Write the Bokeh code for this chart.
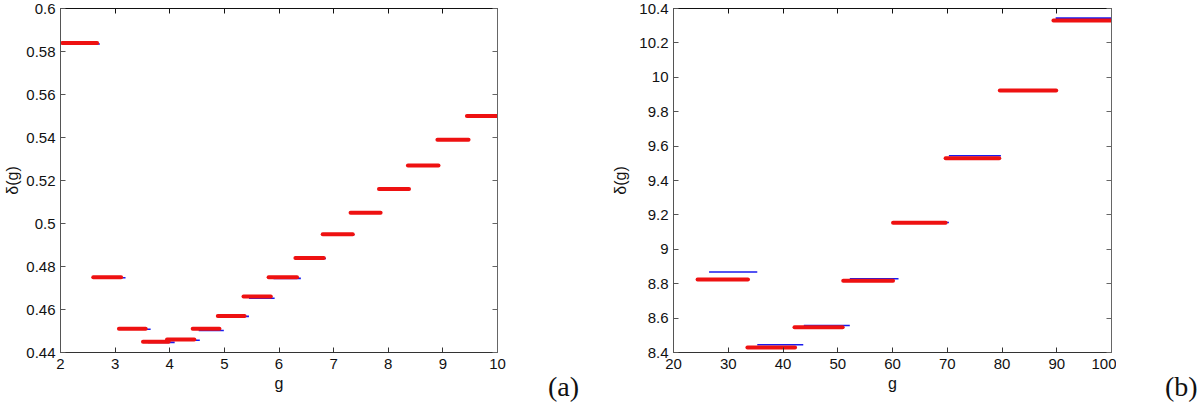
from bokeh.plotting import figure
from bokeh.layouts import row
from bokeh.models import LinearAxis, FixedTicker, Range1d, Div
from bokeh.embed import file_html
from bokeh.resources import INLINE

# ---------------- data: panel (a) ----------------
red_a_start = [2.03, 2.60, 3.07, 3.51, 3.95, 4.42, 4.88, 5.35, 5.81, 6.30, 6.80, 7.31, 7.83, 8.36, 8.90, 9.44]
red_a_end = [2.67, 3.11, 3.56, 3.98, 4.45, 4.91, 5.37, 5.85, 6.33, 6.82, 7.35, 7.86, 8.38, 8.92, 9.47, 10.0]
red_a_y = [0.584, 0.475, 0.451, 0.445, 0.446, 0.451, 0.457, 0.466, 0.475, 0.484, 0.495, 0.505, 0.516, 0.527, 0.539, 0.550]
blue_a_start = [2.10, 2.68, 3.15, 3.60, 4.05, 4.53, 4.95, 5.45, 5.90, 6.38, 6.86, 7.38, 7.90, 8.42, 8.96, 9.50]
blue_a_end = [2.72, 3.19, 3.65, 4.09, 4.55, 4.99, 5.45, 5.92, 6.40, 6.86, 7.38, 7.88, 8.40, 8.94, 9.49, 10.0]
blue_a_y = [0.5835, 0.4748, 0.4508, 0.4447, 0.4457, 0.4502, 0.4568, 0.4652, 0.4745, 0.4837, 0.4948, 0.5048, 0.5158, 0.5268, 0.5388, 0.5498]
xticks_a = [2, 3, 4, 5, 6, 7, 8, 9, 10]
xlabels_a = ["2", "3", "4", "5", "6", "7", "8", "9", "10"]
yticks_a = [0.44, 0.46, 0.48, 0.50, 0.52, 0.54, 0.56, 0.58, 0.60]
ylabels_a = ["0.44", "0.46", "0.48", "0.5", "0.52", "0.54", "0.56", "0.58", "0.6"]

# ---------------- data: panel (b) ----------------
red_b_start = [24.4, 33.5, 42.1, 51.0, 60.1, 69.7, 79.6, 89.4]
red_b_end = [33.6, 42.2, 50.9, 60.1, 69.7, 79.5, 89.9, 100.0]
red_b_y = [8.825, 8.429, 8.547, 8.817, 9.154, 9.529, 9.923, 10.33]
blue_b_start = [26.5, 35.3, 43.8, 52.2, 61.0, 70.3, 80.0, 89.8]
blue_b_end = [35.3, 43.7, 52.2, 61.1, 70.3, 79.8, 90.0, 100.0]
blue_b_y = [8.868, 8.445, 8.557, 8.829, 9.156, 9.544, 9.925, 10.344]
xticks_b = [20, 30, 40, 50, 60, 70, 80, 90, 100]
xlabels_b = ["20", "30", "40", "50", "60", "70", "80", "90", "100"]
yticks_b = [8.4, 8.6, 8.8, 9.0, 9.2, 9.4, 9.6, 9.8, 10.0, 10.2, 10.4]
ylabels_b = ["8.4", "8.6", "8.8", "9", "9.2", "9.4", "9.6", "9.8", "10", "10.2", "10.4"]

FONT = "Liberation Sans"
H = 404


def style_axis(ax, ticks, labels, color, show_labels=True, label_standoff=4):
    ax.ticker = FixedTicker(ticks=ticks)
    ax.major_tick_in = 5
    ax.major_tick_out = 0
    ax.minor_tick_line_color = None
    ax.axis_line_color = color
    ax.major_tick_line_color = color
    ax.axis_line_width = 1
    ax.major_label_text_font = FONT
    ax.major_label_text_color = "#111111"
    ax.axis_label_text_font = FONT
    ax.axis_label_text_font_size = "16px"
    ax.axis_label_text_font_style = "normal"
    ax.axis_label_text_color = "#111111"
    if show_labels:
        ax.major_label_overrides = {t: l for t, l in zip(ticks, labels)}
        ax.major_label_text_font_size = "15px"
        ax.major_label_standoff = label_standoff
    else:
        ax.major_label_overrides = {t: "" for t in ticks}
        ax.major_label_text_font_size = "1px"
        ax.major_label_standoff = 0


def make_panel(xr, yr, xt, xl, yt, yl, rs, re, ry, bs, be, by,
               border_left, border_right, frame_w, ylab_standoff):
    p = figure(frame_width=frame_w, frame_height=344,
               x_range=Range1d(*xr), y_range=Range1d(*yr),
               min_border_left=border_left, min_border_right=border_right,
               min_border_top=8, min_border_bottom=H - 8 - 344,
               x_axis_label="g", y_axis_label="δ(g)",
               output_backend="svg", toolbar_location=None)
    p.xgrid.visible = False
    p.ygrid.visible = False
    p.outline_line_color = None
    p.background_fill_color = "white"
    p.border_fill_color = "white"

    style_axis(p.xaxis[0], xt, xl, "#333333", label_standoff=6)
    p.xaxis[0].axis_label_standoff = 3
    style_axis(p.yaxis[0], yt, yl, "#555555", label_standoff=5)
    p.yaxis[0].axis_label_standoff = ylab_standoff

    top = LinearAxis()
    style_axis(top, xt, xl, "#111111", show_labels=False)
    p.add_layout(top, "above")
    right = LinearAxis()
    style_axis(right, yt, yl, "#666666", show_labels=False)
    p.add_layout(right, "right")

    p.segment(x0=bs, y0=by, x1=be, y1=by, line_color="#1a1aee", line_width=1.6)
    p.segment(x0=rs, y0=ry, x1=re, y1=ry, line_color="#ee1111", line_width=4,
              line_cap="round")
    return p


def tag_div(text, width, left):
    html = ('<div style="position:relative;width:%dpx;height:%dpx;overflow:hidden;">'
            '<span style="position:absolute;left:%dpx;top:373px;line-height:1;'
            'font-family:\'Liberation Serif\',serif;font-size:28px;color:#111;'
            'white-space:nowrap;">%s</span></div>') % (width, H, left, text)
    return Div(text=html, width=width, height=H, margin=(0, 0, 0, 0))


pa = make_panel((2, 10), (0.44, 0.60), xticks_a, xlabels_a, yticks_a, ylabels_a,
                red_a_start, red_a_end, red_a_y, blue_a_start, blue_a_end, blue_a_y,
                60, 10, 437, 2)
da = tag_div("(a)", 100, 41)
pb = make_panel((20, 100), (8.4, 10.4), xticks_b, xlabels_b, yticks_b, ylabels_b,
                red_b_start, red_b_end, red_b_y, blue_b_start, blue_b_end, blue_b_y,
                66, 5, 438, 7)
db = tag_div("(b)", 83, 49)

layout = row(pa, da, pb, db)
open("out.html", "w").write(file_html(layout, INLINE))
